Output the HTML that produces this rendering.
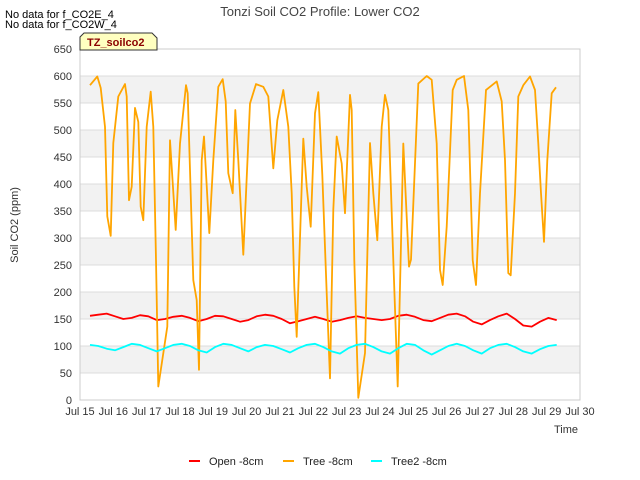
<!DOCTYPE html>
<html><head><meta charset="utf-8"><style>
body{margin:0;background:#fff;}
svg{display:block;font-family:"Liberation Sans","DejaVu Sans",sans-serif;}
</style></head><body>
<svg id="chart" width="640" height="480" xmlns="http://www.w3.org/2000/svg"></svg>
<script>
const xTicks=[15,16,17,18,19,20,21,22,23,24,25,26,27,28,29,30];
const yTicks=[0,50,100,150,200,250,300,350,400,450,500,550,600,650];
const treeT=[15.3,15.52,15.62,15.75,15.82,15.92,16.0,16.15,16.35,16.4,16.47,16.55,16.65,16.75,16.82,16.9,17.0,17.12,17.2,17.28,17.35,17.62,17.7,17.87,18.0,18.18,18.23,18.4,18.5,18.57,18.65,18.72,18.88,19.0,19.15,19.28,19.37,19.45,19.58,19.66,19.75,19.9,20.1,20.28,20.5,20.65,20.8,20.92,21.1,21.25,21.35,21.43,21.5,21.7,21.8,21.92,22.05,22.15,22.27,22.4,22.5,22.6,22.7,22.85,22.95,23.1,23.15,23.23,23.35,23.55,23.7,23.8,23.92,24.05,24.15,24.25,24.4,24.53,24.7,24.87,24.93,25.15,25.4,25.55,25.7,25.8,25.88,26.0,26.18,26.3,26.52,26.65,26.78,26.88,27.0,27.18,27.3,27.5,27.65,27.75,27.85,27.92,28.05,28.15,28.3,28.5,28.65,28.75,28.83,28.92,29.02,29.15,29.28];
const treeV=[583,599,578,506,340,304,476,562,585,562,370,395,541,515,358,333,506,571,506,259,25,136,481,315,475,583,568,222,185,56,444,488,309,444,580,594,553,420,383,537,444,269,549,585,580,562,429,518,574,506,383,210,117,484,395,321,531,570,417,198,40,352,488,438,346,565,537,259,4,87,476,383,296,506,565,537,259,25,475,247,260,586,600,593,475,241,213,321,574,593,600,537,259,213,383,574,580,590,553,444,235,231,383,562,583,599,574,475,383,293,444,568,579];
const sampleStart=15.3, sampleStep=0.25;
const openV=[156,158,160,155,150,152,157,155,148,150,154,156,152,146,150,156,155,150,145,148,155,158,156,150,142,146,150,154,150,145,148,152,155,152,150,148,150,156,158,154,148,146,152,158,160,155,145,140,148,155,160,150,138,136,145,152,148];
const tree2V=[102,100,95,92,98,104,102,96,90,96,102,104,100,92,88,98,104,102,96,90,98,102,100,94,88,96,102,104,98,90,86,96,102,104,98,90,86,96,104,102,92,84,92,100,104,100,92,86,96,102,104,98,90,86,94,100,102];

const svg=document.getElementById('chart');
const NS='http://www.w3.org/2000/svg';
const L=80,R=580,T=49,B=400;
const xs=t=>L+(t-15)/15*(R-L);
const ys=v=>B-v/650*(B-T);
function mk(tag,attrs,parent){const e=document.createElementNS(NS,tag);for(const k in attrs)e.setAttribute(k,attrs[k]);(parent||svg).appendChild(e);return e;}

const bg=mk('rect',{x:L,y:T,width:R-L,height:B-T,fill:'#fff'});


for(let i=0;i<yTicks.length-1;i++){
  if(i%2===1){
    const b=mk('rect',{x:L,y:ys(yTicks[i+1]),width:R-L,height:ys(yTicks[i])-ys(yTicks[i+1]),fill:'#f2f2f2'});
    
    
  }
}
yTicks.forEach(v=>{
  const g=mk('line',{x1:L,x2:R,y1:ys(v),y2:ys(v),stroke:'#dcdcdc','stroke-width':1});
  
  
  const tx=mk('text',{x:L-8,y:ys(v)+4,'text-anchor':'end','font-size':11,fill:'#333'});
  tx.textContent=v;
  
  
});
xTicks.forEach(d=>{
  const tx=mk('text',{x:xs(d),y:B+15,'text-anchor':'middle','font-size':11,fill:'#333'});
  tx.textContent='Jul '+d;
  
  
});
const fr=mk('rect',{x:L,y:T,width:R-L,height:B-T,fill:'none',stroke:'#cccccc','stroke-width':1});



function line(ts,vs,color,name){
  const d=ts.map((t,i)=>(i?'L':'M')+xs(t).toFixed(1)+','+ys(vs[i]).toFixed(1)).join('');
  const p=mk('path',{d:d,fill:'none',stroke:color,'stroke-width':1.8,'stroke-linejoin':'round'});
  
  
}
const sampT=openV.map((_,i)=>sampleStart+i*sampleStep);
const sampT2=tree2V.map((_,i)=>sampleStart+i*sampleStep);
line(sampT,openV,'#ff0000','open-8cm-line');
line(treeT,treeV,'#ffa500','tree-8cm-line');
line(sampT2,tree2V,'#00ffff','tree2-8cm-line');

const title=mk('text',{x:320,y:16,'text-anchor':'middle','font-size':13,fill:'#444'});
title.textContent='Tonzi Soil CO2 Profile: Lower CO2';


const yl=mk('text',{x:18,y:225,'text-anchor':'middle','font-size':11,fill:'#333',transform:'rotate(-90 18 225)'});
yl.textContent='Soil CO2 (ppm)';


const xl=mk('text',{x:578,y:433,'text-anchor':'end','font-size':11,fill:'#333'});
xl.textContent='Time';


const n1=mk('text',{x:5,y:18,'font-size':11,fill:'#000'});
n1.textContent='No data for f_CO2E_4';


const n2=mk('text',{x:5,y:28,'font-size':11,fill:'#000'});
n2.textContent='No data for f_CO2W_4';


const tagG=mk('g',{});


mk('path',{d:'M84,33 L152,33 L157,38 L157,50 L80,50 L80,37 Z',fill:'#ffffc0',stroke:'#333','stroke-width':1},tagG);
const tt=mk('text',{x:87,y:46,'font-size':11,'font-weight':'bold',fill:'#8b0000'},tagG);
tt.textContent='TZ_soilco2';

const legend=[['#ff0000','Open -8cm',189],['#ffa500','Tree -8cm',283],['#00ffff','Tree2 -8cm',371]];
legend.forEach(([c,label,x])=>{
  const g=mk('g',{});
  
  
  mk('line',{x1:x,x2:x+11,y1:461,y2:461,stroke:c,'stroke-width':2},g);
  const t=mk('text',{x:x+20,y:465,'font-size':11,fill:'#222'},g);
  t.textContent=label;
});
</script>
</body></html>
